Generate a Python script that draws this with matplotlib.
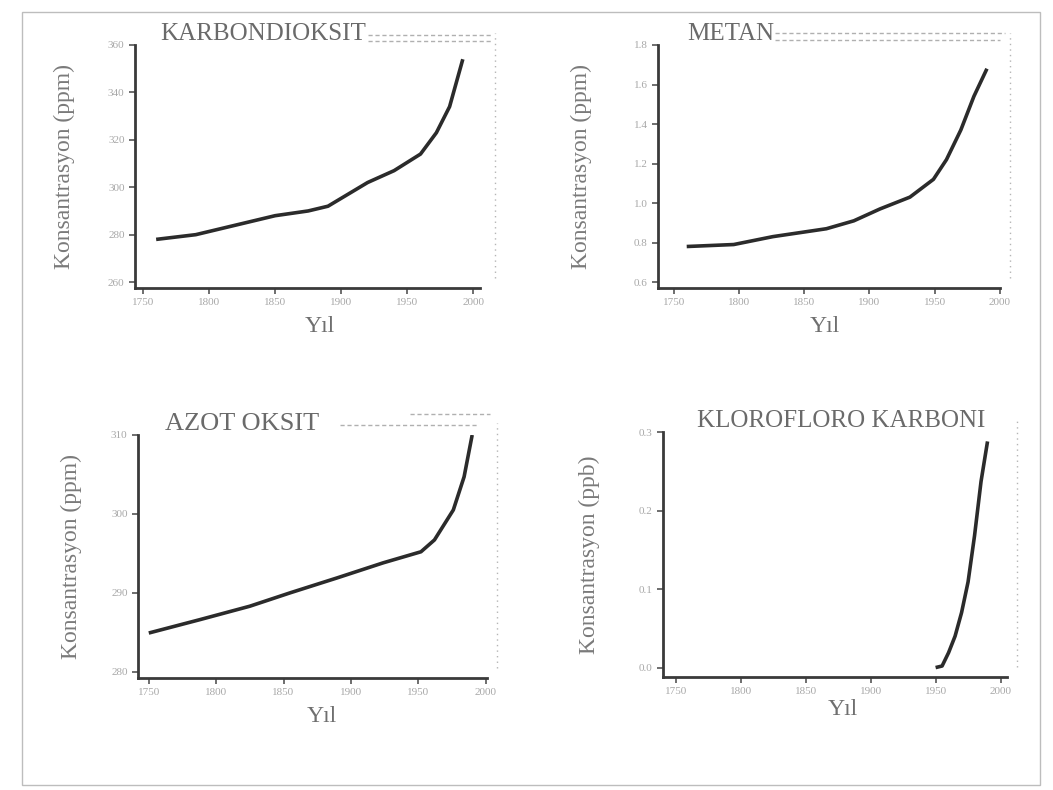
import matplotlib
matplotlib.use("Agg")
import matplotlib.pyplot as plt
from matplotlib.patches import Rectangle
from matplotlib.lines import Line2D

# ---- data ----
co2_years = [1760, 1790, 1820, 1850, 1875, 1890, 1905, 1920, 1940, 1960, 1972, 1982, 1992]
co2_vals = [278, 280, 284, 288, 290, 292, 297, 302, 307, 314, 323, 334, 354]

ch4_years = [1760, 1796, 1826, 1867, 1888, 1908, 1931, 1949, 1959, 1970, 1980, 1990]
ch4_vals = [0.78, 0.79, 0.83, 0.87, 0.91, 0.97, 1.03, 1.12, 1.22, 1.37, 1.54, 1.68]

n2o_years = [1750, 1788, 1825, 1855, 1890, 1924, 1952, 1962, 1976, 1984, 1990]
n2o_vals = [284.9, 286.6, 288.3, 290.0, 291.9, 293.8, 295.2, 296.7, 300.5, 304.7, 310.0]

cfc_years = [1950, 1955, 1960, 1965, 1970, 1975, 1980, 1985, 1990]
cfc_vals = [0.0, 0.002, 0.019, 0.040, 0.070, 0.109, 0.168, 0.237, 0.288]

titles = ["KARBONDIOKSIT", "METAN", "AZOT OKSIT", "KLOROFLORO KARBONI"]
ylabels = ["Konsantrasyon (ppm)", "Konsantrasyon (ppm)", "Konsantrasyon (ppm)", "Konsantrasyon (ppb)"]
xlabel = "Yıl"
xticks = [1750, 1800, 1850, 1900, 1950, 2000]
co2_ticks = [260, 280, 300, 320, 340, 360]
ch4_ticks = [0.6, 0.8, 1.0, 1.2, 1.4, 1.6, 1.8]
n2o_ticks = [280, 290, 300, 310]
cfc_ticks = [0.0, 0.1, 0.2, 0.3]

plt.rcParams['font.family'] = ['Liberation Serif', 'DejaVu Serif']

W, H = 1053, 790
fig = plt.figure(figsize=(W / 100, H / 100), dpi=100)
fig.patch.set_facecolor('white')

def fx(px):
    return px / W

def fy(py):
    return 1 - py / H

# outer border
fig.add_artist(Rectangle((fx(22), fy(785)), fx(1040) - fx(22), fy(12) - fy(785),
                         transform=fig.transFigure, fill=False, ec='#bdbdbd', lw=1.0))

# panel geometry in pixels: left, top, right, bottom
panels = [
    dict(box=(135, 45, 480, 288), x=co2_years, y=co2_vals, ylim=(257.5, 360), yt=co2_ticks,
         xlim=(1744, 2005), tx=0.072, tfs=18, ylx=60, xlx=0.536, xly=28, rline=495,
         fmt=lambda v: f"{v:.0f}"),
    dict(box=(658, 45, 1000, 288), x=ch4_years, y=ch4_vals, ylim=(0.57, 1.8), yt=ch4_ticks,
         xlim=(1738, 2000), tx=0.085, tfs=18, ylx=66, xlx=0.488, xly=28, rline=1010,
         fmt=lambda v: f"{v:.1f}"),
    dict(box=(138, 435, 487, 678), x=n2o_years, y=n2o_vals, ylim=(279.2, 310), yt=n2o_ticks,
         xlim=(1742, 2001), tx=0.077, tfs=19, ylx=56, xlx=0.527, xly=28, rline=497,
         fmt=lambda v: f"{v:.0f}"),
    dict(box=(663, 432, 1007, 677), x=cfc_years, y=cfc_vals, ylim=(-0.012, 0.3), yt=cfc_ticks,
         xlim=(1740, 2005), tx=0.10, tfs=18, ylx=63, xlx=0.523, xly=22, rline=1017,
         fmt=lambda v: f"{v:.1f}"),
]

for i, p in enumerate(panels):
    l, t, r, b = p['box']
    ax = fig.add_axes([fx(l), fy(b), fx(r) - fx(l), fy(t) - fy(b)])
    ax.plot(p['x'], p['y'], color='#2b2b2b', lw=2.6, solid_capstyle='butt')
    ax.set_xlim(*p['xlim'])
    ax.set_ylim(*p['ylim'])
    ax.set_xticks(xticks)
    ax.set_xticklabels([str(v) for v in xticks])
    ax.set_yticks(p['yt'])
    ax.set_yticklabels([p['fmt'](v) for v in p['yt']])
    for s in ['top', 'right']:
        ax.spines[s].set_visible(False)
    for s in ['left', 'bottom']:
        ax.spines[s].set_color('#3a3a3a')
        ax.spines[s].set_linewidth(2.0)
    ax.tick_params(axis='both', colors='#555555', labelcolor='#a8a8a8', labelsize=8,
                   length=4, width=1.2, direction='out')
    ax.set_facecolor('none')
    ax.text(p['tx'], 1.0, titles[i], transform=ax.transAxes, ha='left', va='bottom',
            fontsize=p['tfs'], color='#6a6a6a')
    ax.set_ylabel(ylabels[i], fontsize=17, color='#7a7a7a')
    ax.yaxis.set_label_coords(-p['ylx'] / (r - l), 0.5)
    ax.set_xlabel(xlabel, fontsize=17, color='#6f6f6f')
    ax.xaxis.set_label_coords(p['xlx'], -p['xly'] / (b - t))
    # faint dotted right frame
    rx = p['rline']
    fig.add_artist(Line2D([fx(rx), fx(rx)], [fy(b - 10), fy(t - 12)], transform=fig.transFigure,
                          color='#b5b5b5', lw=1.0, ls=(0, (1, 3))))

# faint dashed decorations beside the titles
decor = [
    (368, 493, 35), (368, 493, 41),
    (775, 1005, 33), (775, 1000, 40),
    (340, 478, 425), (410, 490, 414),
]
for x0, x1, yy in decor:
    fig.add_artist(Line2D([fx(x0), fx(x1)], [fy(yy), fy(yy)], transform=fig.transFigure,
                          color='#b0b0b0', lw=1.0, ls=(0, (3, 2))))

fig.savefig('out.png', dpi=100, facecolor='white')
